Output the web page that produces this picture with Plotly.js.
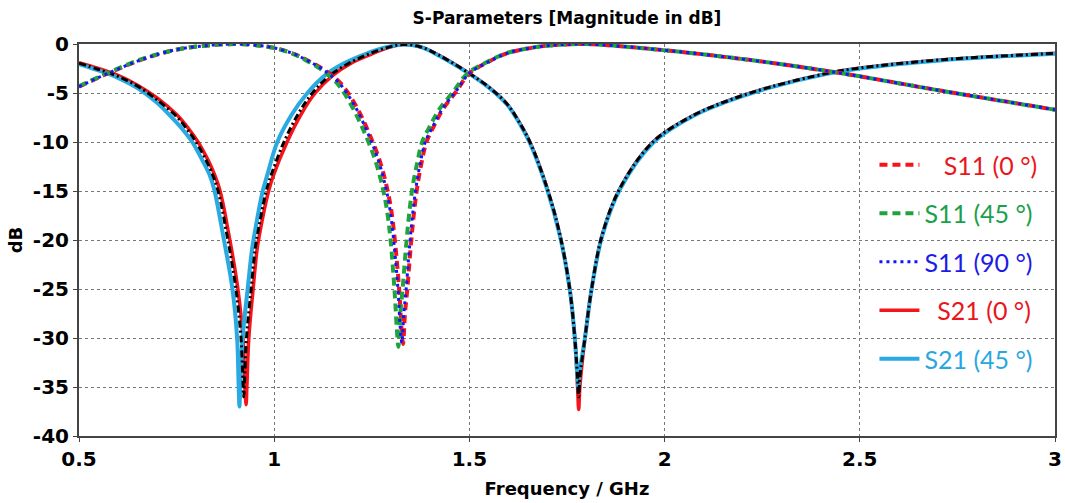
<!DOCTYPE html>
<html>
<head>
<meta charset="utf-8">
<script src="https://cdn.plot.ly/plotly-3.0.1.min.js"></script>
<style>html,body{margin:0;padding:0;background:#fff}#chart{width:1065px;height:503px}</style>
</head>
<body>
<div id="chart"></div>
<script>
// ---- Data (frequency in GHz, magnitude in dB) ----
const s11_0_f  = [0.5,0.574,0.66,0.746,0.83,0.9,0.95,1.0,1.05,1.087,1.13,1.17,1.212,1.245,1.271,1.289,1.300,1.309,1.320,1.326,1.330,1.335,1.341,1.348,1.356,1.366,1.378,1.39,1.41,1.433,1.467,1.50,1.55,1.596,1.65,1.70,1.75,1.80,1.937,2.108,2.27,2.416,2.5,2.713,3.0];
const s11_0_db = [-4.35,-3.0,-1.6,-0.6,-0.15,0,-0.1,-0.4,-1.0,-1.7,-2.7,-4.0,-6.5,-9.3,-12,-14.7,-17,-20,-25,-29,-30.6,-27.5,-25,-21.5,-18,-14.7,-12,-10,-8.3,-6.6,-4.8,-3.0,-1.8,-0.95,-0.45,-0.17,-0.04,0,-0.4,-1.1,-1.9,-2.75,-3.3,-4.8,-6.7];

const s11_45_f  = [0.5,0.574,0.66,0.746,0.83,0.9,0.95,1.0,1.048,1.083,1.124,1.161,1.201,1.234,1.260,1.278,1.289,1.298,1.308,1.314,1.318,1.323,1.329,1.336,1.344,1.354,1.367,1.379,1.400,1.424,1.460,1.495,1.547,1.594,1.65,1.70,1.75,1.80,1.937,2.108,2.27,2.416,2.5,2.713,3.0];
const s11_45_db = [-4.3,-2.95,-1.55,-0.6,-0.15,0,-0.1,-0.4,-1.0,-1.7,-2.7,-4.0,-6.5,-9.3,-12,-14.7,-17,-20,-25,-29,-30.9,-27.5,-25,-21.5,-18,-14.7,-12,-10,-8.3,-6.6,-4.8,-3.0,-1.8,-0.95,-0.45,-0.17,-0.04,0,-0.4,-1.1,-1.9,-2.75,-3.3,-4.8,-6.7];

const s11_90_f  = [0.5,0.574,0.66,0.746,0.83,0.9,0.95,1.0,1.05,1.086,1.128,1.167,1.209,1.242,1.268,1.286,1.297,1.306,1.317,1.323,1.327,1.332,1.338,1.345,1.353,1.363,1.375,1.387,1.408,1.431,1.466,1.50,1.55,1.596,1.65,1.70,1.75,1.80,1.937,2.108,2.27,2.416,2.5,2.713,3.0];
const s11_90_db = [-4.35,-3.0,-1.6,-0.6,-0.15,0,-0.1,-0.4,-1.0,-1.7,-2.7,-4.0,-6.5,-9.3,-12,-14.7,-17,-20,-25,-29,-30.5,-27.5,-25,-21.5,-18,-14.7,-12,-10,-8.3,-6.6,-4.8,-3.0,-1.8,-0.95,-0.45,-0.17,-0.04,0,-0.4,-1.1,-1.9,-2.75,-3.3,-4.8,-6.7];

const s21_0_f  = [0.5,0.55,0.6,0.65,0.7,0.75,0.78,0.805,0.83,0.848,0.86,0.872,0.884,0.891,0.907,0.920,0.925,0.928,0.930,0.935,0.946,0.956,0.962,0.985,0.998,1.033,1.07,1.105,1.15,1.195,1.245,1.29,1.33,1.375,1.42,1.50,1.553,1.596,1.625,1.655,1.699,1.732,1.757,1.770,1.777,1.780,1.783,1.796,1.813,1.84,1.886,1.97,2.073,2.168,2.27,2.416,2.5,2.713,3.0];
const s21_0_db = [-1.9,-2.5,-3.2,-4.2,-5.5,-7.2,-8.6,-10,-11.8,-13.4,-14.8,-16.9,-19.5,-21,-25,-30,-35,-36.8,-35,-30,-25,-21,-19.5,-15.1,-13.4,-10,-7.1,-5.0,-3.2,-2.0,-1.1,-0.4,-0.05,-0.3,-1.1,-3.0,-4.5,-6.1,-7.8,-10,-14.7,-19.5,-25,-30,-35,-37.3,-35,-30,-25,-19.5,-14.7,-10,-7.3,-5.7,-4.4,-3.0,-2.45,-1.6,-0.95];

const s21_45_f  = [0.5,0.55,0.6,0.65,0.7,0.74,0.765,0.79,0.815,0.835,0.846,0.857,0.869,0.876,0.893,0.905,0.909,0.911,0.913,0.919,0.932,0.943,0.949,0.970,0.982,1.008,1.045,1.083,1.13,1.18,1.235,1.285,1.33,1.375,1.42,1.50,1.553,1.596,1.625,1.655,1.699,1.732,1.757,1.770,1.776,1.779,1.782,1.796,1.813,1.84,1.886,1.97,2.073,2.168,2.27,2.416,2.5,2.713,3.0];
const s21_45_db = [-2.05,-2.7,-3.45,-4.5,-6.0,-7.6,-8.7,-10,-11.8,-13.4,-14.8,-16.9,-19.5,-21,-25,-30,-35,-37,-35,-30,-25,-21,-19.5,-15.1,-13.4,-10,-7.2,-5.1,-3.2,-1.95,-1.0,-0.35,-0.05,-0.3,-1.15,-3.05,-4.55,-6.15,-7.85,-10.1,-14.8,-19.6,-25,-30,-33.5,-35,-33.5,-30,-25,-19.6,-14.8,-10.1,-7.35,-5.75,-4.45,-3.05,-2.5,-1.65,-1.0];

const s21_90_f  = [0.5,0.55,0.6,0.65,0.7,0.75,0.777,0.80,0.825,0.843,0.855,0.867,0.879,0.886,0.902,0.915,0.920,0.922,0.924,0.929,0.941,0.951,0.957,0.979,0.992,1.025,1.062,1.098,1.143,1.19,1.24,1.288,1.33,1.375,1.42,1.50,1.553,1.596,1.625,1.655,1.699,1.732,1.757,1.770,1.777,1.780,1.783,1.796,1.813,1.84,1.886,1.97,2.073,2.168,2.27,2.416,2.5,2.713,3.0];
const s21_90_db = [-1.95,-2.6,-3.3,-4.3,-5.7,-7.4,-8.7,-10,-11.8,-13.4,-14.8,-16.9,-19.5,-21,-25,-30,-34.5,-36,-34.5,-30,-25,-21,-19.5,-15.1,-13.4,-10,-7.1,-5.0,-3.2,-2.0,-1.05,-0.38,-0.05,-0.3,-1.1,-3.0,-4.5,-6.1,-7.8,-10,-14.7,-19.5,-25,-30,-34,-36,-34,-30,-25,-19.5,-14.7,-10,-7.3,-5.7,-4.4,-3.0,-2.45,-1.6,-0.95];

const xTickVals = [0.5,1,1.5,2,2.5,3];
const xTickText = ['0.5','1','1.5','2','2.5','3'];
const yTickVals = [0,-5,-10,-15,-20,-25,-30,-35,-40];
const yTickText = ['0','-5','-10','-15','-20','-25','-30','-35','-40'];

const legendNames = ['S11 (0 °)','S11 (45 °)','S11 (90 °)','S21 (0 °)','S21 (45 °)'];

// ---- Styles ----
const C_RED = '#f5141a', C_GREEN = '#1fa43c', C_BLUE = '#1414ff', C_CYAN = '#2aaae2', C_BLACK = '#000000';
const TXT_RED = '#e8161d', TXT_GREEN = '#1aa04a', TXT_BLUE = '#1c1ce6', TXT_CYAN = '#2aa6df';
const nb = '\u00a0';
function lab(t, c, pad){ return nb.repeat(pad) + '<span style="color:' + c + '">' + t + '</span>'; }

const traces = [
  {x:s21_0_f, y:s21_0_db, name:lab(legendNames[3],TXT_RED,2), legendrank:4, legendgroup:'d',
   line:{color:C_RED,width:3.5}},
  {x:s21_45_f, y:s21_45_db, name:lab(legendNames[4],TXT_CYAN,0), legendrank:5, legendgroup:'e',
   line:{color:C_CYAN,width:4}},
  {x:s21_90_f, y:s21_90_db, name:'S21 (90 °)', showlegend:false,
   line:{color:C_BLACK,width:3,dash:'7px,3px,2px,3px'}},
  {x:s11_0_f, y:s11_0_db, name:lab(legendNames[0],TXT_RED,3), legendrank:1, legendgroup:'a',
   line:{color:C_RED,width:4,dash:'8px,5px'}},
  {x:s11_45_f, y:s11_45_db, name:lab(legendNames[1],TXT_GREEN,0), legendrank:2, legendgroup:'b',
   line:{color:C_GREEN,width:4,dash:'8px,5px'}},
  {x:s11_90_f, y:s11_90_db, name:lab(legendNames[2],TXT_BLUE,0), legendrank:3, legendgroup:'c',
   line:{color:C_BLUE,width:3,dash:'3px,4px'}}
].map(t => Object.assign({type:'scatter', mode:'lines'}, t, {line:Object.assign({shape:'spline', smoothing:1}, t.line)}));

const axFont = {family:'DejaVu Sans, Verdana, sans-serif', size:20, color:'#000', weight:'bold'};
const layout = {
  width:1065, height:503,
  margin:{l:79, r:10, t:44, b:67},
  paper_bgcolor:'#fff', plot_bgcolor:'#fff',
  title:{text:'S-Parameters [Magnitude in dB]', xref:'paper', x:0.5, xanchor:'center', y:0.965, yanchor:'middle',
         font:{family:'DejaVu Sans, Verdana, sans-serif', size:17, color:'#000', weight:'bold'}},
  xaxis:{range:[0.5,3], tickvals:xTickVals, ticktext:xTickText, tickfont:axFont,
         showgrid:true, gridcolor:'#777', griddash:'dot', gridwidth:1,
         showline:true, linecolor:'#444', linewidth:2, mirror:true, zeroline:false,
         ticks:'outside', ticklen:4, tickcolor:'#444',
         title:{text:'Frequency / GHz', standoff:12, font:{family:'DejaVu Sans, Verdana, sans-serif', size:18, color:'#000', weight:'bold'}}},
  yaxis:{range:[-40,0], tickvals:yTickVals, ticktext:yTickText, tickfont:axFont,
         showgrid:true, gridcolor:'#777', griddash:'dot', gridwidth:1,
         showline:true, linecolor:'#444', linewidth:2, mirror:true, zeroline:false,
         ticks:'outside', ticklen:4, tickcolor:'#444',
         title:{text:'dB', standoff:6, font:{family:'DejaVu Sans, Verdana, sans-serif', size:18, color:'#000', weight:'bold'}}},
  showlegend:true,
  legend:{x:0.815, y:0.75, xanchor:'left', yanchor:'top', bgcolor:'rgba(0,0,0,0)',
          font:{family:'Lato, Noto Sans, sans-serif', size:25}, tracegroupgap:13, traceorder:'grouped',
          itemwidth:40}
};

Plotly.newPlot('chart', traces, layout, {displayModeBar:false, staticPlot:true});
</script>
</body>
</html>
